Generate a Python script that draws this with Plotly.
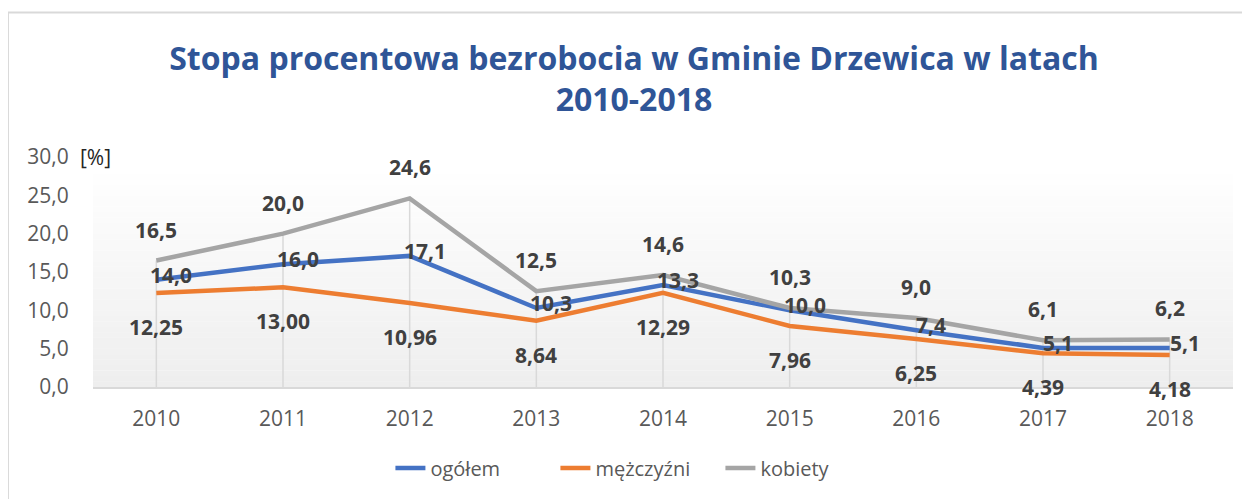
import plotly.graph_objects as go

years = ["2010", "2011", "2012", "2013", "2014", "2015", "2016", "2017", "2018"]
ogolem = [14.0, 16.0, 17.1, 10.3, 13.3, 10.0, 7.4, 5.1, 5.1]
mezczyzni = [12.25, 13.00, 10.96, 8.64, 12.29, 7.96, 6.25, 4.39, 4.18]
kobiety = [16.5, 20.0, 24.6, 12.5, 14.6, 10.3, 9.0, 6.1, 6.2]

FONT = "Open Sans"
BLUE = "#4472C4"
ORANGE = "#ED7D31"
GRAY = "#A5A5A5"
LABEL = "#404040"

fig = go.Figure()

# drop lines (from highest series down to axis)
fig.add_trace(go.Scatter(
    x=years, y=kobiety, mode="markers", marker=dict(size=1, opacity=0),
    error_y=dict(type="data", symmetric=False, array=[0] * len(kobiety),
                 arrayminus=kobiety, width=0, thickness=1.5, color="#D9D9D9"),
    showlegend=False, hoverinfo="skip"))

for name, vals, col in [("ogółem", ogolem, BLUE), ("mężczyźni", mezczyzni, ORANGE),
                        ("kobiety", kobiety, GRAY)]:
    fig.add_trace(go.Scatter(x=years, y=vals, mode="lines", name=name,
                             line=dict(color=col, width=4.5)))


def fmt(v, d):
    return f"{v:.{d}f}".replace(".", ",")


lab_font = dict(family=FONT, size=21, color=LABEL, weight="bold")
ann = []
for i, v in enumerate(kobiety):
    ann.append(dict(x=i, y=v, text=fmt(v, 1), yshift=31, showarrow=False, font=lab_font))
for i, v in enumerate(ogolem):
    ann.append(dict(x=i, y=v, text=fmt(v, 1), xshift=15, yshift=5, showarrow=False, font=lab_font))
for i, v in enumerate(mezczyzni):
    ann.append(dict(x=i, y=v, text=fmt(v, 2), yshift=-34, showarrow=False, font=lab_font))
ann.append(dict(xref="paper", yref="paper", x=-0.013, y=1.0, xanchor="left",
                yanchor="middle", text="[%]", showarrow=False,
                font=dict(family=FONT, size=21, color="#262626")))

# gradient plot background via stripes
shapes = []
n = 40
for i in range(n):
    t = i / n
    c = int(round(0xEE + (0xFF - 0xEE) * t))
    shapes.append(dict(type="rect", xref="x domain", yref="y domain",
                       x0=0, x1=1, y0=t * 0.95, y1=(i + 1) / n * 0.95 + 0.001,
                       fillcolor=f"rgb({c},{c},{c})", line=dict(width=0),
                       layer="below"))
# chart border (left and top)
shapes.append(dict(type="line", xref="paper", yref="paper", x0=-0.0746, x1=-0.0746,
                   y0=1.628, y1=-0.5, line=dict(color="#D9D9D9", width=2)))
shapes.append(dict(type="line", xref="paper", yref="paper", x0=-0.0746, x1=1.02,
                   y0=1.628, y1=1.628, line=dict(color="#D9D9D9", width=2)))

fig.update_layout(
    width=1242, height=491,
    margin=dict(l=85, r=17, t=149, b=112),
    paper_bgcolor="white", plot_bgcolor="white",
    separators=", ",
    font=dict(family=FONT, color="#595959"),
    title=dict(text="Stopa procentowa bezrobocia w Gminie Drzewica w latach<br>2010-2018",
               x=0.504, xanchor="center", y=0.874, yanchor="top",
               font=dict(family=FONT, size=32, color="#2F5597", weight="bold")),
    xaxis=dict(type="category", showgrid=False, showline=True, linecolor="#D9D9D9",
               linewidth=2, ticks="outside", ticklen=12, tickcolor="rgba(0,0,0,0)",
               tickfont=dict(size=21, color="#595959"), range=[-0.5, 8.5]),
    yaxis=dict(range=[0, 30], dtick=5, tickformat=".1f", showgrid=False,
               zeroline=False, showline=False, ticks="outside", ticklen=19,
               tickcolor="rgba(0,0,0,0)", tickfont=dict(size=21, color="#595959")),
    legend=dict(orientation="h", x=0.478, xanchor="center", y=-0.352,
                yanchor="middle", font=dict(size=20, color="#595959"),
                entrywidth=120, entrywidthmode="pixels"),
    annotations=ann, shapes=shapes,
)

fig.write_html("out.html")
